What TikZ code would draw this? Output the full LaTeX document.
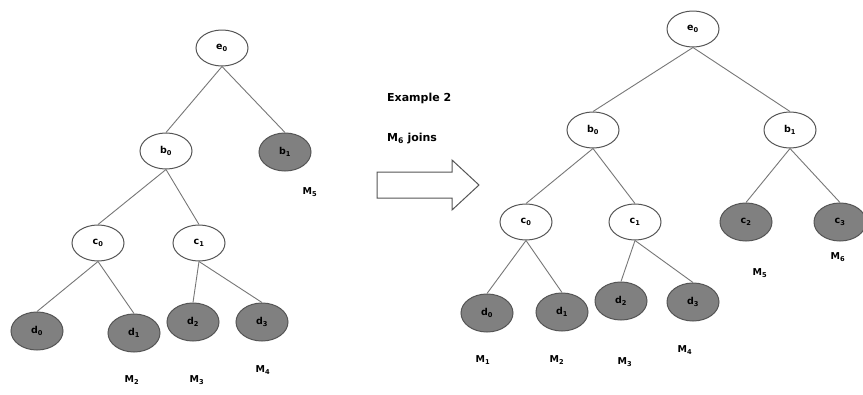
\documentclass[tikz,border=0pt]{standalone}
\usepackage{fontspec}
\setmainfont{DejaVu Sans}
\usetikzlibrary{shapes.geometric}
\definecolor{edgec}{HTML}{777777}
\definecolor{rimc}{HTML}{555555}
\definecolor{fillg}{HTML}{808080}
\newcommand{\lab}[2]{\textbf{#1}\textsubscript{\textbf{#2}}}
\tikzset{
  wnode/.style={ellipse, draw=rimc, line width=1pt, fill=white, minimum width=52pt, minimum height=36pt, inner sep=0pt, font=\fontsize{9.5}{10}\selectfont},
  gnode/.style={ellipse, draw=rimc, line width=1pt, fill=fillg, minimum width=52pt, minimum height=38pt, inner sep=0pt, font=\fontsize{9.5}{10}\selectfont},
  mlab/.style={font=\fontsize{9.5}{10}\selectfont, inner sep=1pt},
  midtext/.style={font=\fontsize{11}{12}\selectfont, inner sep=1pt},
  edge/.style={draw=edgec, line width=0.9pt},
}
\begin{document}
\begin{tikzpicture}[x=1pt, y=-1pt]
\useasboundingbox (0,0) rectangle (863,394);
\fill[white] (0,0) rectangle (863,394);
% ---------- left tree ----------
\node[wnode] (Le0) at (222,48) {\lab{e}{0}};
\node[wnode] (Lb0) at (166,151) {\lab{b}{0}};
\node[gnode] (Lb1) at (285,152) {\lab{b}{1}};
\node[wnode] (Lc0) at (98,243) {\lab{c}{0}};
\node[wnode] (Lc1) at (199,243) {\lab{c}{1}};
\node[gnode] (Ld0) at (37,331) {\lab{d}{0}};
\node[gnode] (Ld1) at (134,333) {\lab{d}{1}};
\node[gnode] (Ld2) at (193,322) {\lab{d}{2}};
\node[gnode] (Ld3) at (262,322) {\lab{d}{3}};
\draw[edge] (Le0.south) -- (Lb0.north);
\draw[edge] (Le0.south) -- (Lb1.north);
\draw[edge] (Lb0.south) -- (Lc0.north);
\draw[edge] (Lb0.south) -- (Lc1.north);
\draw[edge] (Lc0.south) -- (Ld0.north);
\draw[edge] (Lc0.south) -- (Ld1.north);
\draw[edge] (Lc1.south) -- (Ld2.north);
\draw[edge] (Lc1.south) -- (Ld3.north);
\node[mlab] (LM5) at (310,192) {\lab{M}{5}};
\node[mlab] (LM2) at (132,380) {\lab{M}{2}};
\node[mlab] (LM3) at (197,380) {\lab{M}{3}};
\node[mlab] (LM4) at (263,370) {\lab{M}{4}};
% ---------- middle ----------
\node[midtext, anchor=west] (ex) at (386,98) {\textbf{Example 2}};
\node[midtext, anchor=west] (jn) at (386,139) {\lab{M}{6} \textbf{joins}};
\draw[rimc, line width=1pt, fill=white] (377,172) -- (452,172) -- (452,160) -- (479,185) -- (452,210) -- (452,198) -- (377,198) -- cycle;
% ---------- right tree ----------
\node[wnode] (Re0) at (693,29) {\lab{e}{0}};
\node[wnode] (Rb0) at (593,130) {\lab{b}{0}};
\node[wnode] (Rb1) at (790,130) {\lab{b}{1}};
\node[wnode] (Rc0) at (526,222) {\lab{c}{0}};
\node[wnode] (Rc1) at (635,222) {\lab{c}{1}};
\node[gnode] (Rc2) at (746,222) {\lab{c}{2}};
\node[gnode] (Rc3) at (840,222) {\lab{c}{3}};
\node[gnode] (Rd0) at (487,313) {\lab{d}{0}};
\node[gnode] (Rd1) at (562,312) {\lab{d}{1}};
\node[gnode] (Rd2) at (621,301) {\lab{d}{2}};
\node[gnode] (Rd3) at (693,302) {\lab{d}{3}};
\draw[edge] (Re0.south) -- (Rb0.north);
\draw[edge] (Re0.south) -- (Rb1.north);
\draw[edge] (Rb0.south) -- (Rc0.north);
\draw[edge] (Rb0.south) -- (Rc1.north);
\draw[edge] (Rb1.south) -- (Rc2.north);
\draw[edge] (Rb1.south) -- (Rc3.north);
\draw[edge] (Rc0.south) -- (Rd0.north);
\draw[edge] (Rc0.south) -- (Rd1.north);
\draw[edge] (Rc1.south) -- (Rd2.north);
\draw[edge] (Rc1.south) -- (Rd3.north);
\node[mlab] (RM1) at (483,360) {\lab{M}{1}};
\node[mlab] (RM2) at (557,360) {\lab{M}{2}};
\node[mlab] (RM3) at (625,362) {\lab{M}{3}};
\node[mlab] (RM4) at (685,350) {\lab{M}{4}};
\node[mlab] (RM5) at (760,273) {\lab{M}{5}};
\node[mlab] (RM6) at (838,257) {\lab{M}{6}};
\end{tikzpicture}
\end{document}
